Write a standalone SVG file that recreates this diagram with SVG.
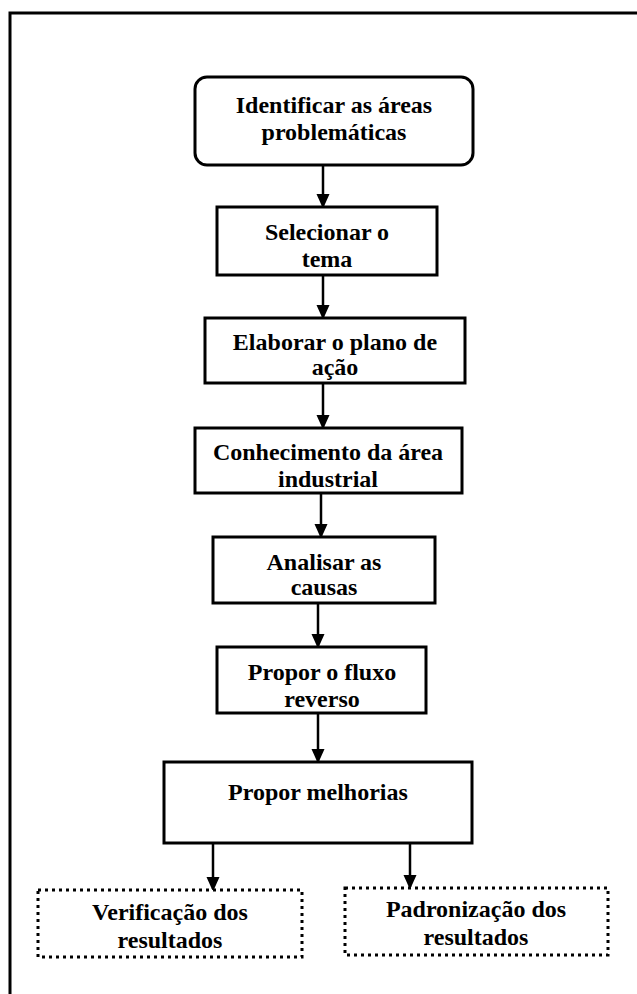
<svg xmlns="http://www.w3.org/2000/svg" width="637" height="994" viewBox="0 0 637 994">
  <style>
    .box { fill: #ffffff; stroke: #000000; stroke-width: 3; }
    .dot { fill: #ffffff; stroke: #000000; stroke-width: 3; stroke-dasharray: 3 4; }
    .lbl { font-family: "Liberation Serif", "Times New Roman", serif; font-weight: bold; font-size: 24px; fill: #000000; text-anchor: middle; }
    .link { stroke: #000000; stroke-width: 2.5; fill: none; marker-end: url(#head); }
    .frame { stroke: #000000; stroke-width: 3; fill: none; }
  </style>
  <defs>
    <marker id="head" markerWidth="6" markerHeight="6" refX="5" refY="3" orient="auto" markerUnits="strokeWidth">
      <path d="M0,0.3 L6,3 L0,5.7 Z" fill="#000000"/>
    </marker>
  </defs>

  <rect width="637" height="994" fill="#ffffff"/>
  <!-- outer frame: only the top and left edges fall inside the page -->
  <path class="frame" d="M10,994 L10,13 L637,13"/>

  <g id="connectors">
    <line class="link" x1="323" y1="165" x2="323" y2="206"/>
    <line class="link" x1="323" y1="275" x2="323" y2="317"/>
    <line class="link" x1="323" y1="383" x2="323" y2="427"/>
    <line class="link" x1="321" y1="493" x2="321" y2="536"/>
    <line class="link" x1="318" y1="603" x2="318" y2="646"/>
    <line class="link" x1="318" y1="713" x2="318" y2="761"/>
    <line class="link" x1="213" y1="843" x2="213" y2="889"/>
    <line class="link" x1="410" y1="843" x2="410" y2="887"/>
  </g>

  <g id="n1">
    <rect class="box" x="195" y="77" width="278" height="88" rx="12"/>
    <text class="lbl" x="334" y="113">Identificar as áreas</text>
    <text class="lbl" x="334" y="140">problemáticas</text>
  </g>
  <g id="n2">
    <rect class="box" x="217" y="207" width="220" height="68"/>
    <text class="lbl" x="327" y="240">Selecionar o</text>
    <text class="lbl" x="327" y="267">tema</text>
  </g>
  <g id="n3">
    <rect class="box" x="205" y="318" width="260" height="65"/>
    <text class="lbl" x="335" y="350">Elaborar o plano de</text>
    <text class="lbl" x="335" y="375">ação</text>
  </g>
  <g id="n4">
    <rect class="box" x="195" y="428" width="267" height="65"/>
    <text class="lbl" x="328" y="460">Conhecimento da área</text>
    <text class="lbl" x="328" y="487">industrial</text>
  </g>
  <g id="n5">
    <rect class="box" x="213" y="537" width="222" height="66"/>
    <text class="lbl" x="324" y="570">Analisar as</text>
    <text class="lbl" x="324" y="595">causas</text>
  </g>
  <g id="n6">
    <rect class="box" x="217" y="647" width="209" height="66"/>
    <text class="lbl" x="322" y="680">Propor o fluxo</text>
    <text class="lbl" x="322" y="707">reverso</text>
  </g>
  <g id="n7">
    <rect class="box" x="164" y="762" width="308" height="81"/>
    <text class="lbl" x="318" y="800">Propor melhorias</text>
  </g>
  <g id="n8">
    <rect class="dot" x="38" y="890" width="264" height="67"/>
    <text class="lbl" x="170" y="920">Verificação dos</text>
    <text class="lbl" x="170" y="948">resultados</text>
  </g>
  <g id="n9">
    <rect class="dot" x="345" y="888" width="263" height="67"/>
    <text class="lbl" x="476" y="917">Padronização dos</text>
    <text class="lbl" x="476" y="945">resultados</text>
  </g>
</svg>
